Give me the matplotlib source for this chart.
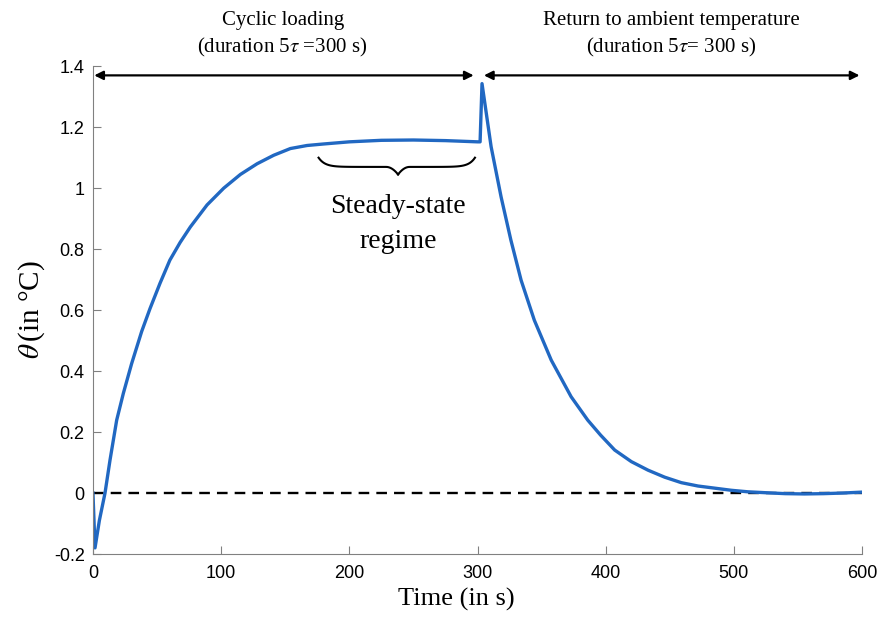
#Temperature rise under cyclic loading and return to ambient temperature

import numpy as np
import matplotlib
matplotlib.use('Agg')
import matplotlib.pyplot as plt

plt.rcParams['mathtext.fontset'] = 'stix'

#Data
t = [0, 1.6, 5, 9.4, 13.3, 18.5, 23.7, 30.2, 38, 44.5, 52.3, 60, 68, 76, 89,
     102, 115, 128, 141, 154, 167, 180, 200, 225, 250, 275, 300, 302, 303.5,
     310.6, 318.4, 326, 334, 344.3, 357.5, 373, 386, 396, 407, 420, 433, 446,
     459, 472, 485, 498, 511, 525, 540, 555, 570, 585, 600]
theta = [0, -0.18, -0.09, 0, 0.108, 0.239, 0.327, 0.425, 0.53, 0.605, 0.688,
         0.764, 0.822, 0.873, 0.945, 1.0, 1.045, 1.08, 1.108, 1.13, 1.14,
         1.145, 1.152, 1.157, 1.158, 1.156, 1.152, 1.152, 1.343, 1.136, 0.971,
         0.83, 0.698, 0.567, 0.436, 0.316, 0.239, 0.19, 0.141, 0.103, 0.075,
         0.052, 0.034, 0.023, 0.016, 0.009, 0.004, 0.001, -0.002, -0.003,
         -0.002, 0.0, 0.003]

xticks = [0, 100, 200, 300, 400, 500, 600]
yticks = [-0.2, 0, 0.2, 0.4, 0.6, 0.8, 1, 1.2, 1.4]
ytick_labels = ['-0.2', '0', '0.2', '0.4', '0.6', '0.8', '1', '1.2', '1.4']

serif = 'Liberation Serif'
sans = 'Liberation Sans'

fig = plt.figure(figsize=(8.77, 6.19), dpi=100)
ax = fig.add_axes([0.106, 0.105, 0.877, 0.788])

ax.plot([0, 600], [0, 0], color='black', linestyle=(0, (4.5, 3)), linewidth=1.7)
ax.plot(t, theta, color='#2168c2', linewidth=2.4)

ax.set_xlim(0, 600)
ax.set_ylim(-0.2, 1.4)
ax.set_xticks(xticks)
ax.set_yticks(yticks)
ax.set_yticklabels(ytick_labels)
ax.tick_params(direction='in', length=6, color='#808080', labelsize=13)
ax.tick_params(axis='x', pad=8)
ax.tick_params(axis='y', pad=6)
for lab in ax.get_xticklabels() + ax.get_yticklabels():
    lab.set_family(sans)
for s in ['top', 'right']:
    ax.spines[s].set_visible(False)
for s in ['left', 'bottom']:
    ax.spines[s].set_color('#808080')

ax.set_xlabel('Time (in s)', fontfamily=serif, fontsize=19)
ax.xaxis.set_label_coords(0.473, -0.07)
ax.set_ylabel(r'$\theta\,$(in °C)', fontfamily=serif, fontsize=21)
ax.yaxis.set_label_coords(-0.06, 0.5)

#double arrows on top
ya = 1.37
ax.annotate('', xy=(297, ya), xytext=(1, ya),
            arrowprops=dict(arrowstyle='<|-|>', color='black', lw=1.6,
                            mutation_scale=13, shrinkA=0, shrinkB=0),
            annotation_clip=False)
ax.annotate('', xy=(598, ya), xytext=(305, ya),
            arrowprops=dict(arrowstyle='<|-|>', color='black', lw=1.6,
                            mutation_scale=13, shrinkA=0, shrinkB=0),
            annotation_clip=False)

ax.text(148, 1.55, 'Cyclic loading', ha='center', va='center',
        fontfamily=serif, fontsize=15)
ax.text(148, 1.46, r'(duration 5$\tau$ =300 s)', ha='center', va='center',
        fontfamily=serif, fontsize=15)
ax.text(451, 1.55, 'Return to ambient temperature', ha='center', va='center',
        fontfamily=serif, fontsize=15)
ax.text(451, 1.46, r'(duration 5$\tau$= 300 s)', ha='center', va='center',
        fontfamily=serif, fontsize=15)

#curly brace under steady-state part
x0, x1, xm = 176, 298, 238
yt, yb = 1.10, 1.045
s = np.linspace(0, 1, 60)
left_x = x0 + (xm - x0) * s
right_x = xm + (x1 - xm) * s
def half(u):
    return yt - (yt - yb) * 0.55 * (1 - np.exp(-u / 0.08)) - (yt - yb) * 0.45 * np.clip((u - 0.85) / 0.15, 0, 1) ** 2
ax.plot(left_x, half(s), color='black', lw=1.5)
ax.plot(right_x, half(1 - s), color='black', lw=1.5)

ax.text(xm, 0.94, 'Steady-state', ha='center', va='center',
        fontfamily=serif, fontsize=20)
ax.text(xm, 0.825, 'regime', ha='center', va='center',
        fontfamily=serif, fontsize=20)

plt.savefig('out.png', dpi=100)
